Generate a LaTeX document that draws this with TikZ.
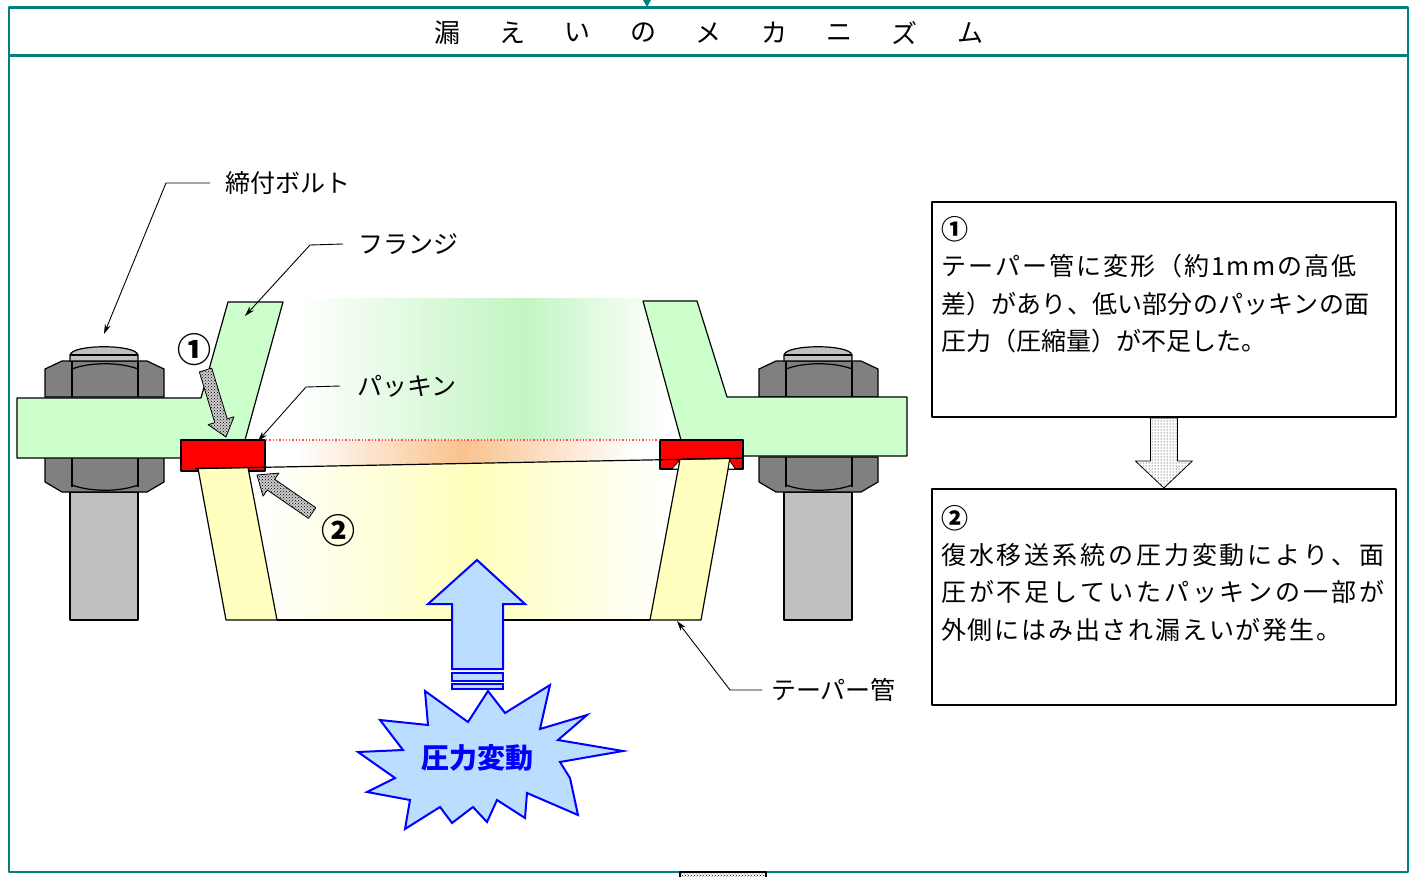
\documentclass[tikz,border=0pt]{standalone}
\usepackage{fontspec}
\usetikzlibrary{arrows.meta,patterns}
\newfontfamily\jp{Noto Sans CJK JP}

\definecolor{frameteal}{HTML}{008080}
\definecolor{flangegreen}{HTML}{CCFFCC}
\definecolor{pipeyellow}{HTML}{FFFFC0}
\definecolor{gasketred}{HTML}{FF0000}
\definecolor{nutgray}{HTML}{808080}
\definecolor{boltgray}{HTML}{C0C0C0}
\definecolor{gradgreen}{HTML}{C2F5C2}
\definecolor{gradorange}{HTML}{F9C28E}
\definecolor{gradyellow}{HTML}{FFFFBC}
\definecolor{burstfill}{HTML}{BBDDFF}
\definecolor{burstblue}{HTML}{0000FF}

% horizontal fades; the filled path spans 25bp..75bp of each shading
\pgfdeclarehorizontalshading{greenfade}{100bp}{color(0bp)=(white); color(31bp)=(white); color(57bp)=(gradgreen); color(73bp)=(white); color(100bp)=(white)}
\pgfdeclarehorizontalshading{orangefade}{100bp}{color(0bp)=(white); color(29bp)=(white); color(50bp)=(gradorange); color(72bp)=(white); color(100bp)=(white)}
\pgfdeclarehorizontalshading{yellowfade}{100bp}{color(0bp)=(white); color(26bp)=(white); color(51bp)=(gradyellow); color(74bp)=(white); color(100bp)=(white)}

% a line of characters spread evenly over a given width
\makeatletter
\def\spread@rest#1{\ifx\relax#1\else\hskip 0pt plus 1fil #1\expandafter\spread@rest\fi}
\def\spread@first#1{#1\spread@rest}
\newcommand\fitline[2]{\makebox[#1][s]{\spread@first#2\relax}}
\makeatother

% block arrow: style, tip, direction angle, length, head length, head half width, shaft half width
\newcommand\blockarrow[7]{%
  \begin{scope}[shift={#2},rotate=#3]
    \draw[#1] (0,0) -- (-#5,#6) -- (-#5,#7) -- (-#4,#7) -- (-#4,-#7) -- (-#5,-#7) -- (-#5,-#6) -- cycle;
  \end{scope}}

% bolt with its two nuts, x offset of the nut's left side
\newcommand\hexbolt[1]{%
  \begin{scope}[shift={(#1,0)}]
    \draw[boltbody] (25,492) rectangle (93,620);
    \draw[nut] (0,457) -- (0,482) -- (17,492) -- (102,492) -- (119,482) -- (119,457) -- cycle;
    \draw[outline] (27,457) -- (27,487) (93,457) -- (93,487);
    \draw[outline] (27,485) .. controls (45,492) and (75,492) .. (93,485);
    \draw[nut] (0,397) -- (0,369) -- (17,361) -- (102,361) -- (119,369) -- (119,397) -- cycle;
    \draw[outline] (27,362) -- (27,397) (93,362) -- (93,397);
    \draw[outline] (27,369) .. controls (45,362) and (75,362) .. (93,369);
    \draw[boltbody] (25,361) -- (25,355) .. controls (27,344) and (91,344) .. (93,355) -- (93,361) -- cycle;
    \draw[outline] (25,355) -- (93,355);
  \end{scope}}

\tikzset{
  outline/.style={draw=black, line width=1.2pt},
  flange/.style={outline, fill=flangegreen},
  pipewall/.style={outline, fill=pipeyellow},
  gasket/.style={outline, fill=gasketred},
  nut/.style={outline, fill=nutgray},
  boltbody/.style={outline, fill=boltgray},
  leader/.style={draw=black, line width=0.9pt, -{Stealth[length=10pt,width=6pt]}},
  lbl/.style={font=\jp\fontsize{25}{30}\selectfont, inner sep=0pt, anchor=west},
  boxtext/.style={font=\jp\fontsize{25}{30}\selectfont, inner sep=0pt, anchor=base west},
  boxnum/.style={font=\jp\bfseries\fontsize{27}{30}\selectfont, inner sep=0pt, anchor=base west},
  titlechar/.style={font=\jp\fontsize{26}{30}\selectfont, inner sep=0pt},
  marknum/.style={font=\jp\bfseries\fontsize{34}{36}\selectfont, inner sep=0pt},
  textbox/.style={draw=black, line width=1.8pt, anchor=north west, inner sep=0pt},
  dotarrow/.style={draw=black, line width=0.8pt, preaction={fill=gray!40}, pattern=crosshatch dots, pattern color=black},
  sparsearrow/.style={draw=black, line width=0.8pt, preaction={fill=white}, pattern=dots, pattern color=black},
  pressure/.style={draw=burstblue, line width=2pt, fill=burstfill, line join=miter},
}

\begin{document}
\begin{tikzpicture}[x=1pt,y=-1pt,line join=round]
\useasboundingbox (0,0) rectangle (1415,877);
\fill[white] (0,0) rectangle (1415,877);

% frame and title band
\draw[frameteal, line width=2.6pt] (9,7.5) rectangle (1408,872);
\draw[frameteal, line width=2.6pt] (9,55.5) -- (1408,55.5);
\fill[frameteal] (643,0) -- (651,0) -- (647,7) -- cycle;
\foreach \ch [count=\i from 0] in {漏,え,い,の,メ,カ,ニ,ズ,ム}
  \node[titlechar] (title\i) at ({447+65.4*\i},33) {\ch};

% fluid inside flange, gasket gap and pipe
\shade[shading=greenfade]
  (283,298) -- (643,298) -- (681,440) -- (245,440) -- cycle;
\shade[shading=orangefade]
  (265,440) -- (660,440) -- (660,459.6) -- (265,467.2) -- cycle;
\shade[shading=yellowfade]
  (248,467.5) -- (680,459.2) -- (650,620) -- (277,620) -- cycle;
\draw[outline] (277,620) -- (650,620);

% bolts and nuts
\hexbolt{45}
\hexbolt{759}

% flanges
\draw[flange] (17,398) -- (201,398) -- (228,302) -- (283,302) -- (245,440) -- (181,440) -- (181,458) -- (17,458) -- cycle;
\draw[flange] (643,301) -- (697,301) -- (727,397) -- (907,397) -- (907,456) -- (743,456) -- (743,440) -- (681,440) -- cycle;

% gaskets
\draw[gasket] (181,440) rectangle (265,471);
\draw[gasket] (660,440) rectangle (743,469);

% tapered pipe walls
\draw[pipewall] (198,468.4) -- (248,467.5) -- (277,620) -- (226,620) -- cycle;
\draw[pipewall] (680,459.2) -- (730,458.3) -- (701,620) -- (650,620) -- cycle;
\draw[outline, fill=white, line width=0.8pt] (671.5,469) -- (679.5,460.5) -- (678.2,469) -- cycle;
\draw[outline, fill=white, line width=0.8pt] (729.5,460.5) -- (735.5,469) -- (728.2,469) -- cycle;
\draw[outline] (195,468.6) -- (742,458.2);
\draw[red!70, dotted, line width=1.3pt] (266,440) -- (659,440);

% labels with leaders
\node[lbl] (lbolt) at (225,183) {締付ボルト};
\coordinate (kbolt) at (166,183);
\coordinate (tbolt) at (104,334);
\draw[leader] ([xshift=-15pt]lbolt.west) -- (kbolt) -- (tbolt);

\node[lbl] (lflange) at (358,244) {フランジ};
\coordinate (kflange) at (310,245);
\coordinate (tflange) at (245,316);
\draw[leader] ([xshift=-15pt]lflange.west) -- (kflange) -- (tflange);

\node[lbl] (lpack) at (357,386) {パッキン};
\coordinate (kpack) at (306,387);
\coordinate (tpack) at (258,441);
\draw[leader] ([xshift=-17pt]lpack.west) -- (kpack) -- (tpack);

\node[lbl] (lpipe) at (771,690) {テーパー管};
\coordinate (kpipe) at (730,690);
\coordinate (tpipe) at (677,621);
\draw[leader] ([xshift=-9pt]lpipe.west) -- (kpipe) -- (tpipe);

% cause arrows at the gasket
\node[marknum] (m1) at (194,350) {①};
\blockarrow{dotarrow}{(226,437)}{-73}{70}{17}{13.5}{6.5}
\node[marknum] (m2) at (338,531) {②};
\blockarrow{dotarrow}{(257,475)}{145.4}{67}{17}{14}{6.5}

% pressure fluctuation
\draw[pressure] (477,560) -- (525,604) -- (503,604) -- (503,669) -- (452,669) -- (452,604) -- (428,604) -- cycle;
\draw[pressure] (452,673) rectangle (503,681);
\draw[pressure] (452,684) rectangle (503,689);
\draw[pressure] (488,691) -- (505,713) -- (550,685) -- (540,729) -- (587,715) -- (558,740) -- (623,751)
  -- (560,762) -- (570,778) -- (578,815) -- (527,793) -- (525,818) -- (497,800) -- (487,822)
  -- (473,807) -- (452,823) -- (440,807) -- (405,829) -- (410,800) -- (367,792) -- (395,778)
  -- (358,752) -- (403,750) -- (380,720) -- (428,725) -- (425,691) -- (468,722) -- cycle;
\node[font=\jp\bfseries\fontsize{28}{30}\selectfont, text=burstblue, inner sep=0pt] (burst) at (477,758) {圧力変動};

% explanation boxes
\node[textbox, minimum width=464pt, minimum height=215pt] (box1) at (931,201) {};
\node[boxnum] (b1n) at (941,240) {①};
\node[boxtext] (b1a) at (941,275.5) {\fitline{415pt}{テーパー管に変形（約1mmの高低}};
\node[boxtext] (b1b) at (941,313) {\fitline{428pt}{差）があり、低い部分のパッキンの面}};
\node[boxtext] (b1c) at (941,350.5) {圧力（圧縮量）が不足した。};

\node[textbox, minimum width=464pt, minimum height=216pt] (box2) at (931,488) {};
\node[boxnum] (b2n) at (941,528) {②};
\node[boxtext] (b2a) at (941,564.5) {\fitline{443pt}{復水移送系統の圧力変動により、面}};
\node[boxtext] (b2b) at (941,601.5) {\fitline{443pt}{圧が不足していたパッキンの一部が}};
\node[boxtext] (b2c) at (941,639.5) {\fitline{400pt}{外側にはみ出され漏えいが発生。}};

\blockarrow{sparsearrow}{(box2.north)}{-90}{70}{27}{28.5}{13.5}

% edge of the next panel below
\draw[line width=1.5pt, preaction={fill=white}, pattern=crosshatch dots] (680,872) rectangle (766,886);
\end{tikzpicture}
\end{document}
